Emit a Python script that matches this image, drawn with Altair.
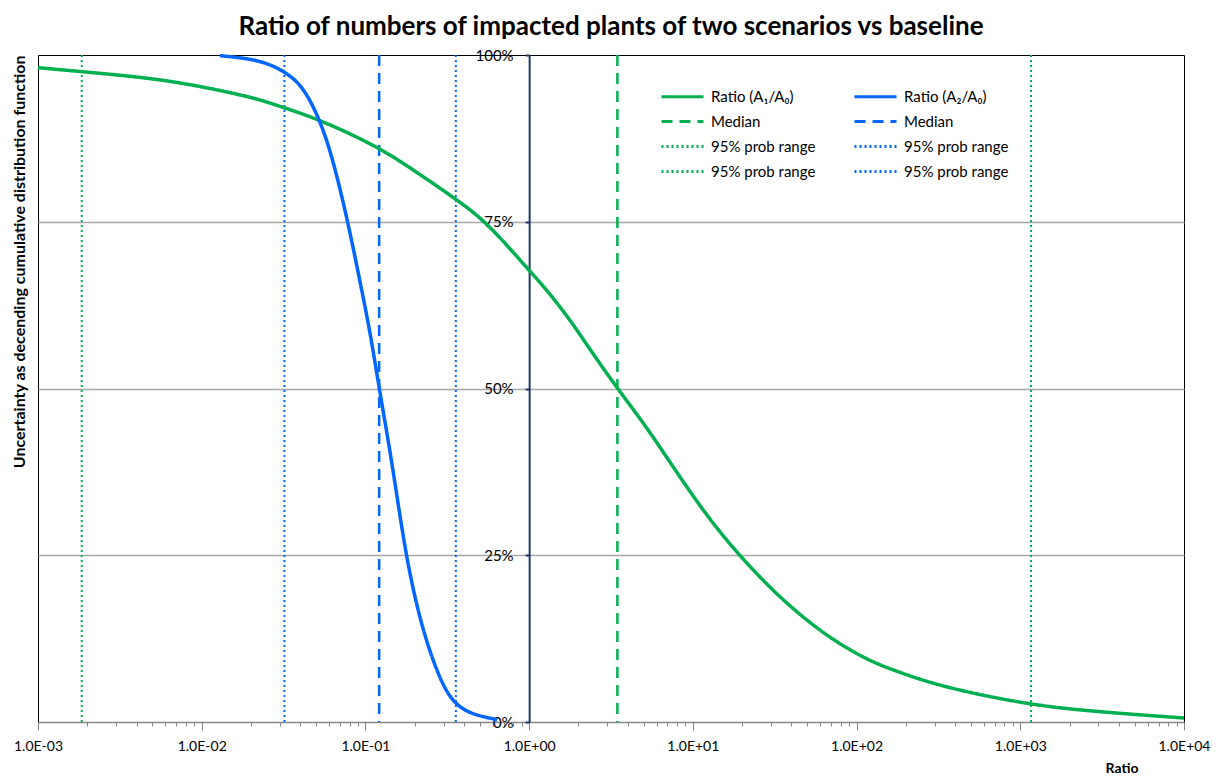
import altair as alt
import pandas as pd

# ---- data ----
green_x = [0.001, 0.00185, 0.0058, 0.0149, 0.0228, 0.0318, 0.0528, 0.118, 0.1875, 0.363,
           0.553, 1.0, 1.29, 1.78, 2.36, 3.46, 5.26, 7.26, 12.2, 19.5, 28.4, 39.3, 66.1,
           116, 167, 324, 1163, 3076, 10000]
green_p = [0.981, 0.975, 0.964, 0.944, 0.933, 0.921, 0.903, 0.863, 0.831, 0.783,
           0.749, 0.677, 0.647, 0.603, 0.558, 0.50, 0.441, 0.389, 0.308, 0.248, 0.206,
           0.173, 0.128, 0.093, 0.078, 0.053, 0.025, 0.015, 0.006]

blue_x = [0.0129, 0.0228, 0.0324, 0.0416, 0.0528, 0.0635, 0.0783, 0.0929, 0.107, 0.1213,
          0.1456, 0.175, 0.21, 0.248, 0.2985, 0.3566, 0.455, 0.603, 0.638]
blue_p = [0.999, 0.993, 0.975, 0.953, 0.903, 0.843, 0.749, 0.659, 0.584, 0.50,
          0.389, 0.254, 0.164, 0.104, 0.053, 0.025, 0.011, 0.005, 0.003]

green_median = 3.46
green_range = [0.00185, 1163]
blue_median = 0.1213
blue_range = [0.032, 0.3566]

# legend entries (filled column by column: left column green, right column blue)
series_keys = ["g_line", "g_med", "g_lo", "g_hi", "b_line", "b_med", "b_lo", "b_hi"]
series_labels = ["Ratio (A₁/A₀)", "Median", "95% prob range", "95% prob range",
                 "Ratio (A₂/A₀)", "Median", "95% prob range", "95% prob range"]
series_colors = ["#00B050"] * 4 + ["#0066FF"] * 4
series_dash = [[1, 0], [11, 7], [2, 3], [2, 3]] * 2

x_tick_labels = ["1.0E-03", "1.0E-02", "1.0E-01", "1.0E+00", "1.0E+01", "1.0E+02",
                 "1.0E+03", "1.0E+04"]
y_ticks = [0, 0.25, 0.5, 0.75, 1.0]

title_text = "Ratio of numbers of impacted plants of two scenarios vs baseline"
x_title = "Ratio"
y_title = "Uncertainty as decending cumulative distribution function"

# ---- tables ----
curves = pd.concat([
    pd.DataFrame({"key": "g_line", "x": green_x, "p": green_p, "o": range(len(green_x))}),
    pd.DataFrame({"key": "b_line", "x": blue_x, "p": blue_p, "o": range(len(blue_x))}),
])
medians = pd.DataFrame({"key": ["g_med", "b_med"], "x": [green_median, blue_median]})
ranges = pd.DataFrame({"key": ["g_lo", "g_hi", "b_lo", "b_hi"],
                       "x": [green_range[0], green_range[1], blue_range[0], blue_range[1]]})

minor = [m * 10.0 ** e for e in range(-3, 4) for m in range(1, 10)] + [1e4]

W, H = 1146, 667
FONT = "Lato"

lg10 = "(log(datum.value)/LN10)"
is_decade = f"abs({lg10} - round({lg10})) < 1e-6"
lbl_arr = "[" + ",".join(f"'{t}'" for t in x_tick_labels) + "]"
keys_arr = "[" + ",".join(f"'{k}'" for k in series_keys) + "]"
labs_arr = "[" + ",".join(f"'{t}'" for t in series_labels) + "]"

x_scale = alt.Scale(type="log", domain=[0.001, 10000], nice=False)
y_scale = alt.Scale(domain=[0, 1], nice=False)

color = alt.Color("key:N",
                  scale=alt.Scale(domain=series_keys, range=series_colors),
                  legend=alt.Legend(
                      title=None, orient="none", legendX=622, legendY=25, columns=2,
                      symbolType="M-1,0H1.8", symbolSize=900, symbolStrokeWidth=3,
                      labelFont=FONT, labelFontSize=15, labelColor="#000000",
                      labelExpr=f"{labs_arr}[indexof({keys_arr}, datum.value)]",
                      labelOffset=18, rowPadding=0, columnPadding=32, labelLimit=300))
dash = alt.StrokeDash("key:N", scale=alt.Scale(domain=series_keys, range=series_dash),
                      legend=None)

x_axis = alt.Axis(values=minor, title=x_title, labelExpr=f"{is_decade} ? {lbl_arr}[round({lg10})+3] : ''",
                  labelFont=FONT, labelFontSize=14, labelColor="#000000", labelPadding=9,
                  labelFlush=False, labelOverlap=False,
                  domainColor="#868686", domainWidth=1.5, tickColor="#868686", tickWidth=1,
                  tickSize={"condition": {"test": is_decade, "value": 8}, "value": 4},
                  grid=False, titleFont=FONT, titleFontSize=14, titleFontWeight="bold",
                  titleColor="#000000", titleX=1100, titleY=46, titleAlign="right",
                  titleBaseline="middle")

y_axis = alt.Axis(values=y_ticks, format=".0%", offset=-W * 3 / 7, title=y_title,
                  labelFont=FONT, labelFontSize=15, labelColor="#000000", labelPadding=12,
                  labelFlush=False, domainColor="#203864", domainWidth=2,
                  tickColor="#203864", tickSize=4, tickWidth=2,
                  grid=True, gridColor="#A6A6A6", gridWidth=1.3,
                  gridOpacity={"condition": {"test": "datum.value == 0 || datum.value == 1", "value": 0}, "value": 1},
                  titleFont=FONT, titleFontSize=16, titleFontWeight="bold", titleColor="#000000",
                  titleAnchor="end", titleX=-(W * 3 / 7) - 10, titleAngle=270)

base_x = alt.X("x:Q", scale=x_scale, axis=x_axis)

lines = alt.Chart(curves).mark_line(strokeWidth=3.5, interpolate="basis").encode(
    x=base_x,
    y=alt.Y("p:Q", scale=y_scale, axis=y_axis),
    color=color, strokeDash=dash, order="o:Q", detail="key:N")

med_rules = alt.Chart(medians).mark_rule(strokeWidth=2.5).encode(
    x=alt.X("x:Q", scale=x_scale), color=color, strokeDash=dash)
rng_rules = alt.Chart(ranges).mark_rule(strokeWidth=2).encode(
    x=alt.X("x:Q", scale=x_scale), color=color, strokeDash=dash)

chart = alt.layer(rng_rules, med_rules, lines).properties(
    width=W, height=H,
    title=alt.TitleParams(title_text, font=FONT, fontSize=26, fontWeight="bold",
                          color="#000000", anchor="middle", offset=8),
    autosize=alt.AutoSizeParams(type="none"),
    padding={"left": 30, "top": 47, "right": 28, "bottom": 56},
).configure_view(stroke="#000000", strokeWidth=1)

chart.save("out.html", embed_options={"renderer": "svg", "actions": False})
